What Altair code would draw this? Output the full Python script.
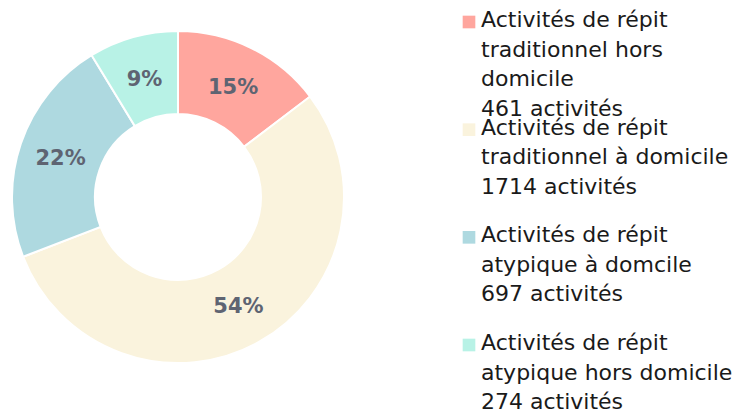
import altair as alt
import pandas as pd

categories = [
    "Activités de répit traditionnel hors domicile",
    "Activités de répit traditionnel à domicile",
    "Activités de répit atypique à domcile",
    "Activités de répit atypique hors domicile",
]
values = [461, 1714, 697, 274]
legend_lines = [
    ["Activités de répit", "traditionnel hors", "domicile", "461 activités"],
    ["Activités de répit", "traditionnel à domicile", "1714 activités"],
    ["Activités de répit", "atypique à domcile", "697 activités"],
    ["Activités de répit", "atypique hors domicile", "274 activités"],
]
colors = ["#FFA69E", "#FAF3DD", "#AED9E0", "#B8F2E6"]

df = pd.DataFrame({
    "categorie": categories,
    "valeur": values,
    "ordre": list(range(len(categories))),
    "legende": ["|".join(l) for l in legend_lines],
})

color_scale = alt.Scale(domain=categories, range=colors)

base = alt.Chart(df).encode(
    theta=alt.Theta("valeur:Q", stack=True),
    order=alt.Order("ordre:Q"),
)

arcs = base.mark_arc(radius=166, radius2=83, stroke="white", strokeWidth=2).encode(
    color=alt.Color("categorie:N", scale=color_scale, legend=None)
)

labels = base.transform_joinaggregate(total="sum(valeur)").transform_calculate(
    pct="datum.valeur / datum.total"
).mark_text(
    radius=124, font="DejaVu Sans", fontWeight="bold", fontSize=21, color="#5E6472", dy=2
).encode(text=alt.Text("pct:Q", format=".0%"))

pie = (arcs + labels).properties(width=340, height=378)

leg_base = alt.Chart(df).encode(
    y=alt.Y("ordre:Q", scale=alt.Scale(domain=[0, 3], range=[14, 337]), axis=None)
)
leg_sym = leg_base.mark_point(shape="square", filled=True, size=160, opacity=1).encode(
    x=alt.value(121),
    color=alt.Color("categorie:N", scale=color_scale, legend=None),
)
leg_txt = leg_base.mark_text(
    align="left", baseline="top", dy=-12, lineBreak="|", font="DejaVu Sans",
    fontSize=22, lineHeight=29.5, color="#1a1a1a"
).encode(x=alt.value(133), text="legende:N")

legend = (leg_sym + leg_txt).properties(width=390, height=378)

chart = alt.hconcat(pie, legend, spacing=0).properties(
    padding=0
).configure_view(stroke=None)

chart.save("out.html", embed_options={"renderer": "svg", "actions": False})
